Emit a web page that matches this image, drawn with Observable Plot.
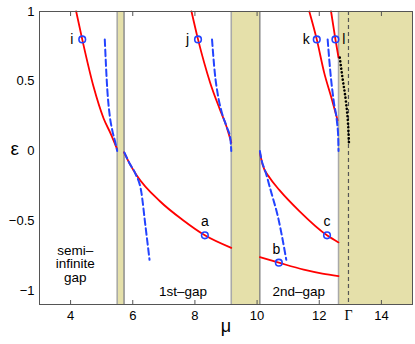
<!DOCTYPE html>
<html>
<head>
<meta charset="utf-8">
<script src="https://cdn.jsdelivr.net/npm/d3@7"></script>
<script src="https://cdn.jsdelivr.net/npm/@observablehq/plot@0.6"></script>
<style>
  html, body { margin: 0; padding: 0; background: #fff; }
  #chart { width: 415px; height: 344px; }
</style>
</head>
<body>
<div id="chart"></div>
<script>
// ---- data ----
const bandStart = [5.5, 9.17, 12.62];
const bandEnd   = [5.72, 10.09, 15];
const gammaMu = 12.94;
const xTicks = [4, 6, 8, 10, 12, 14];
const yTicks = [-1, -0.5, 0, 0.5, 1];

// solid red branches [mu, eps]
const redI  = [[4.18,1.0],[4.375,0.80],[4.74,0.46],[5.06,0.235],[5.3,0.12],[5.5,0.012]];
const redA  = [[5.72,-0.01],[5.9,-0.09],[6.13,-0.175],[6.875,-0.36],[7.62,-0.496],[8.32,-0.604],[9.17,-0.694]];
const redJ  = [[7.89,1.0],[8.10,0.80],[8.49,0.49],[8.80,0.30],[9.01,0.18],[9.17,0.06]];
const redC  = [[10.09,-0.01],[10.18,-0.10],[10.40,-0.19],[10.72,-0.28],[11.36,-0.43],[12.25,-0.604],[12.62,-0.655]];
const redB  = [[10.09,-0.76],[10.70,-0.80],[11.5,-0.85],[12.1,-0.878],[12.62,-0.896]];
const redK  = [[11.68,1.0],[11.92,0.80],[12.16,0.56],[12.38,0.39],[12.59,0.22]];
const redL  = [[12.38,1.0],[12.52,0.80],[12.62,0.67]];

// dashed blue branches [mu, eps]
const blueI = [[5.10,0.80],[5.18,0.444],[5.26,0.253],[5.34,0.15],[5.43,0.07],[5.5,0.0]];
const blueA = [[5.73,-0.01],[5.9,-0.09],[6.08,-0.16],[6.28,-0.3],[6.40,-0.52],[6.54,-0.78]];
const blueJ = [[8.55,0.80],[8.64,0.56],[8.74,0.40],[8.86,0.28],[9.01,0.18],[9.14,0.09],[9.17,0.0]];
const blueB = [[10.09,0.0],[10.15,-0.07],[10.25,-0.135],[10.46,-0.30],[10.67,-0.47],[10.94,-0.78]];
const blueK = [[12.27,0.80],[12.36,0.56],[12.47,0.35],[12.57,0.21],[12.61,0.10],[12.62,0.0]];

// black dotted branch
const dotL = [[12.66,0.67],[12.75,0.52],[12.86,0.35],[12.93,0.18],[12.96,0.04]];

// marked solutions
const ptNames = ["i","j","k","l","a","b","c"];
const ptMu    = [4.375, 8.10, 11.92, 12.52, 8.32, 10.70, 12.25];
const ptEps   = [0.80, 0.80, 0.80, 0.80, -0.604, -0.80, -0.604];

// gap annotations
const gapLabels = ["semi–\ninfinite\ngap", "1st–gap", "2nd–gap"];
const gapMu  = [4.15, 7.62, 11.34];
const gapEps = [-0.81, -1.01, -1.01];

// ---- build tables ----
const toRows = (arr, id) => arr.map(([mu, eps]) => ({mu, eps, id}));
const redRows = [
  ...toRows(redI,"i"), ...toRows(redA,"a"), ...toRows(redJ,"j"), ...toRows(redC,"c"),
  ...toRows(redB,"b"), ...toRows(redK,"k"), ...toRows(redL,"l")
];
const blueRows = [
  ...toRows(blueI,"i"), ...toRows(blueA,"a"), ...toRows(blueJ,"j"),
  ...toRows(blueB,"b"), ...toRows(blueK,"k")
];
const dotRows = toRows(dotL, "l");
const bands = bandStart.map((s, i) => ({s, e: bandEnd[i]}));
const pts = ptNames.map((n, i) => ({name: n, mu: ptMu[i], eps: ptEps[i]}));
const gaps = gapLabels.map((t, i) => ({t, mu: gapMu[i], eps: gapEps[i]}));

const fmtY = d => d < 0 ? "−" + Math.abs(d) : String(d);

const chart = Plot.plot({
  width: 415,
  height: 344,
  marginLeft: 39,
  marginRight: 3,
  marginTop: 11,
  marginBottom: 40,
  style: {fontFamily: "Liberation Sans, Arial, sans-serif", fontSize: "13px", background: "#fff", color: "#000"},
  x: {domain: [3, 15], label: null},
  y: {domain: [-1.1, 1], label: null},
  marks: [
    Plot.rect(bands, {x1: "s", x2: "e", fill: "#e5e0aa"}),
    Plot.ruleX(bandStart, {x: d => d, stroke: "#a9a9a9", strokeWidth: 1.5}),
    Plot.ruleX(bandEnd.slice(0, 2), {x: d => d, stroke: "#555", strokeWidth: 1}),
    Plot.ruleX([gammaMu], {x: d => d, stroke: "#555", strokeWidth: 1.2, strokeDasharray: "4,3"}),
    // axes
    Plot.axisX({ticks: xTicks, tickSize: 0, tickPadding: 6, label: null, fontSize: 13}),
    Plot.axisX({ticks: [gammaMu], tickSize: 0, tickPadding: 6, tickFormat: () => "Γ", label: null, fontFamily: "Liberation Serif, serif", fontSize: 14}),
    Plot.axisX({ticks: xTicks, tickSize: 4, dy: -4, tickFormat: () => "", label: null, stroke: "#555"}),
    Plot.axisX({anchor: "top", ticks: xTicks, tickSize: 4, dy: 4, tickFormat: () => "", label: null, stroke: "#555"}),
    Plot.axisY({ticks: yTicks, tickSize: 0, tickPadding: 5, tickFormat: fmtY, label: null, fontSize: 13}),
    // curves
    Plot.line(redRows, {x: "mu", y: "eps", z: "id", stroke: "#ff0000", strokeWidth: 1.8, curve: "monotone-x"}),
    Plot.line(blueRows, {x: "mu", y: "eps", z: "id", stroke: "#2343ff", strokeWidth: 2, strokeDasharray: "6.5,3.5", curve: "monotone-x"}),
    Plot.line(dotRows, {x: "mu", y: "eps", stroke: "#000", strokeWidth: 2.6, strokeDasharray: "0.1,3.6", strokeLinecap: "round", curve: "monotone-x"}),
    Plot.dot(pts, {x: "mu", y: "eps", r: 3.3, stroke: "#2343ff", strokeWidth: 1.6, fill: "none"}),
    // point labels
    Plot.text(pts.filter(d => "ijk".includes(d.name)), {x: "mu", y: "eps", text: "name", dx: -10.5, fontSize: 14}),
    Plot.text(pts.filter(d => d.name === "l"), {x: "mu", y: "eps", text: "name", dx: 8.5, fontSize: 14}),
    Plot.text(pts.filter(d => "ac".includes(d.name)), {x: "mu", y: "eps", text: "name", dy: -13.5, fontSize: 14}),
    Plot.text(pts.filter(d => d.name === "b"), {x: "mu", y: "eps", text: "name", dx: -2.5, dy: -13.5, fontSize: 14}),
    Plot.text(gaps, {x: "mu", y: "eps", text: "t", fontSize: 13.5, lineHeight: 1.0}),
    // axis titles
    Plot.text(["ε"], {text: d => d, frameAnchor: "left", dx: -29, dy: -9, fontSize: 19}),
    Plot.text(["μ"], {text: d => d, frameAnchor: "bottom", dy: 27, fontSize: 18}),
    Plot.frame({stroke: "#555", strokeWidth: 1})
  ]
});
document.getElementById("chart").appendChild(chart);
</script>
</body>
</html>
